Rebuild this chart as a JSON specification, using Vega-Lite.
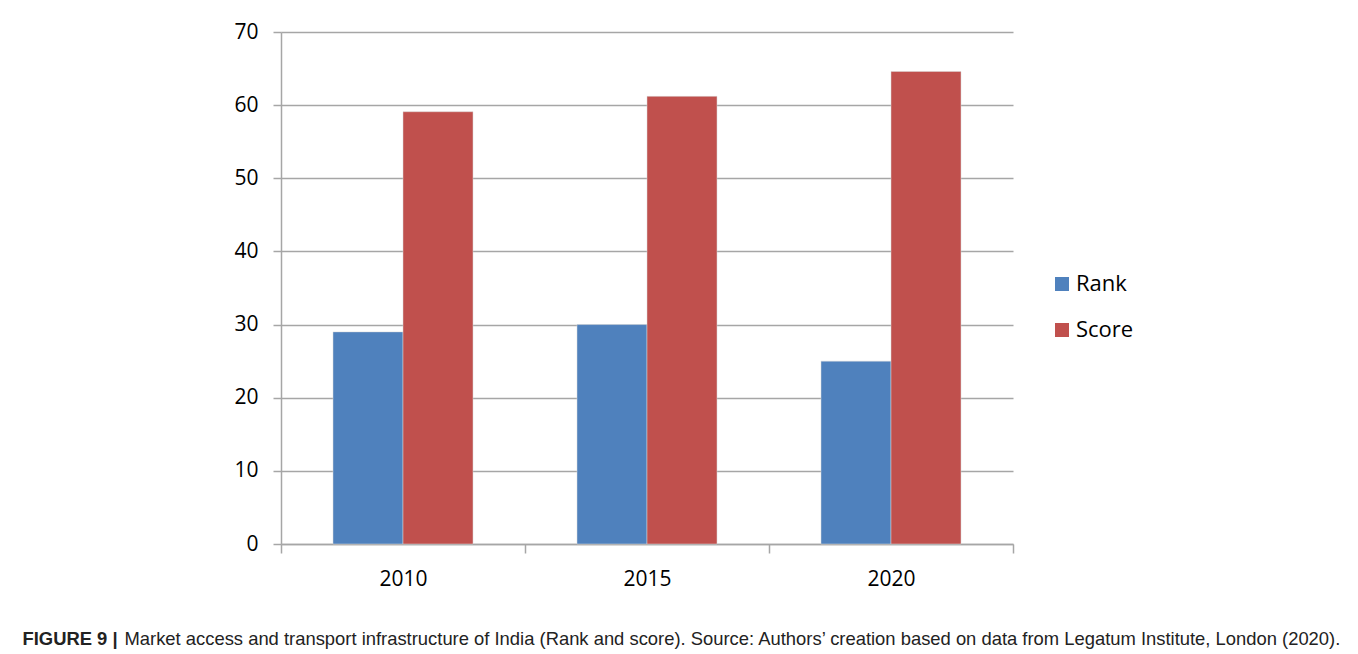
{
  "$schema": "https://vega.github.io/schema/vega-lite/v6.json",
  "autosize": {"type": "none"},
  "width": 732,
  "height": 512,
  "padding": {"left": 281, "top": 32, "right": 345, "bottom": 110},
  "background": "white",
  "data": {
    "values": [
      {"year": "2010", "series": "Rank", "value": 29},
      {"year": "2010", "series": "Score", "value": 59.1},
      {"year": "2015", "series": "Rank", "value": 30},
      {"year": "2015", "series": "Score", "value": 61.2},
      {"year": "2020", "series": "Rank", "value": 25},
      {"year": "2020", "series": "Score", "value": 64.6}
    ]
  },
  "mark": {"type": "bar", "stroke": "#d9d9d9", "strokeWidth": 0.5},
  "encoding": {
    "x": {
      "field": "year",
      "type": "nominal",
      "scale": {"paddingInner": 0, "paddingOuter": 0},
      "axis": {
        "labelAngle": 0,
        "tickBand": "extent",
        "labelFont": "Open Sans",
        "labelFontSize": 21,
        "labelColor": "#000000",
        "labelPadding": 15,
        "tickSize": 9,
        "tickColor": "#a6a6a6",
        "tickWidth": 1.5,
        "domainColor": "#a6a6a6",
        "domainWidth": 1.5,
        "grid": false,
        "title": "Market access and transport infrastructure of India (Rank and score). Source: Authors’ creation based on data from Legatum Institute, London (2020).",
        "titleFont": "Liberation Sans",
        "titleFontSize": 18.4,
        "titleFontWeight": "normal",
        "titleColor": "#222222",
        "titleAlign": "left",
        "titleBaseline": "middle",
        "titleAnchor": "start",
        "titleX": -157,
        "titleY": 94
      }
    },
    "xOffset": {
      "field": "series",
      "scale": {"paddingInner": 0, "paddingOuter": 0.743}
    },
    "y": {
      "field": "value",
      "type": "quantitative",
      "scale": {"domain": [0, 70]},
      "axis": {
        "values": [0, 10, 20, 30, 40, 50, 60, 70],
        "labelFont": "Open Sans",
        "labelFontSize": 21,
        "labelColor": "#000000",
        "labelPadding": 15,
        "tickSize": 8,
        "tickColor": "#a6a6a6",
        "tickWidth": 1.5,
        "domainColor": "#a6a6a6",
        "domainWidth": 1.5,
        "gridColor": "#a6a6a6",
        "gridWidth": 1.5,
        "title": "FIGURE 9 |",
        "titleFont": "Liberation Sans",
        "titleFontSize": 18.4,
        "titleFontWeight": "bold",
        "titleColor": "#222222",
        "titleAngle": 0,
        "titleAlign": "left",
        "titleBaseline": "middle",
        "titleX": -259,
        "titleY": 606
      }
    },
    "color": {
      "field": "series",
      "type": "nominal",
      "scale": {"domain": ["Rank", "Score"], "range": ["#4f81bd", "#c0504d"]},
      "legend": {
        "title": null,
        "orient": "none",
        "legendX": 770,
        "legendY": 241,
        "symbolType": "square",
        "symbolSize": 196,
        "symbolStrokeWidth": 0,
        "labelFont": "Open Sans",
        "labelFontSize": 22,
        "labelColor": "#000000",
        "labelOffset": 3,
        "rowPadding": 24
      }
    }
  },
  "config": {
    "view": {"stroke": null},
    "axis": {"labelFontWeight": "normal"}
  }
}
